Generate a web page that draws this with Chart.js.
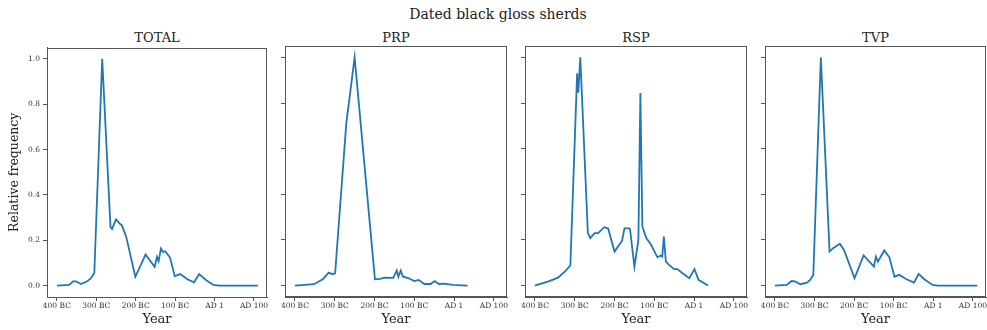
<!DOCTYPE html>
<html>
<head>
<meta charset="utf-8">
<script src="https://cdn.jsdelivr.net/npm/chart.js@4.4.0/dist/chart.umd.min.js"></script>
<style>
  body { margin: 0; background: #fff; }
  #fig { position: relative; width: 987px; height: 330px; overflow: hidden; font-family: 'DejaVu Serif', serif; color: #222; }
  #fig canvas { position: absolute; }
  .ttl { position: absolute; transform: translateX(-50%); white-space: nowrap; line-height: 16px; }
</style>
</head>
<body>
<div id="fig">
  <div class="ttl" style="left:498px; top:6px; font-size:14px;">Dated black gloss sherds</div>
</div>
<script>
// data (year: negative = BC)
const panelNames = ['TOTAL', 'PRP', 'RSP', 'TVP'];

const totalYears  = [-400, -369, -358, -350, -339, -324, -314, -305, -285, -264, -260, -250, -240, -235, -224, -201, -175, -152, -146, -142, -136, -131, -125, -113, -101, -87, -69, -52, -39, -22, -3, 13, 110];
const totalValues = [0, 0.003, 0.02, 0.018, 0.007, 0.018, 0.032, 0.056, 1.0, 0.259, 0.25, 0.292, 0.273, 0.266, 0.215, 0.039, 0.137, 0.083, 0.127, 0.108, 0.164, 0.149, 0.152, 0.124, 0.042, 0.051, 0.028, 0.015, 0.051, 0.025, 0.003, 0, 0];

const prpYears  = [-400, -352, -330, -315, -306, -299, -271, -250, -199, -186, -174, -153, -144, -140, -134, -129, -114, -100, -89, -75, -59, -49, -38, -25, -4, 34];
const prpValues = [0, 0.006, 0.028, 0.057, 0.05, 0.054, 0.71, 1.0, 0.028, 0.029, 0.035, 0.034, 0.066, 0.039, 0.066, 0.04, 0.032, 0.02, 0.025, 0.007, 0.007, 0.02, 0.007, 0.009, 0.003, 0];

const rspYears  = [-400, -364, -342, -325, -311, -294, -291, -286, -267, -261, -250, -241, -226, -216, -200, -181, -175, -164, -161, -150, -140, -135, -130, -120, -109, -92, -84, -80, -76, -71, -63, -50, -42, -29, -12, 1, 11, 35];
const rspValues = [0, 0.02, 0.035, 0.061, 0.088, 0.93, 0.845, 1.0, 0.23, 0.208, 0.23, 0.23, 0.256, 0.25, 0.149, 0.197, 0.251, 0.251, 0.247, 0.083, 0.2, 0.844, 0.259, 0.208, 0.181, 0.124, 0.132, 0.127, 0.215, 0.105, 0.091, 0.072, 0.072, 0.054, 0.032, 0.072, 0.025, 0];

const tvpYears  = [-400, -370, -358, -349, -336, -319, -311, -303, -284, -262, -253, -236, -225, -199, -176, -150, -145, -140, -124, -111, -98, -86, -69, -49, -37, -23, -2, 11, 111];
const tvpValues = [0, 0.003, 0.02, 0.018, 0.006, 0.013, 0.025, 0.047, 1.0, 0.149, 0.164, 0.183, 0.154, 0.032, 0.132, 0.083, 0.127, 0.105, 0.154, 0.124, 0.039, 0.047, 0.029, 0.013, 0.051, 0.028, 0.003, 0, 0];

const xTickValues = [-400, -300, -200, -100, 0, 100];
const xTickLabels = ['400 BC', '300 BC', '200 BC', '100 BC', 'AD 1', 'AD 100'];
const yTickValues = [0, 0.2, 0.4, 0.6, 0.8, 1.0];

// layout of the four axes boxes (px in the 987x330 figure)
const plotLeft = [47, 285, 525, 765];
const plotRight = [267, 507, 747, 986];
const plotTop = 46, plotBottom = 297, figH = 330;

Chart.defaults.font.family = "'DejaVu Serif', serif";
Chart.defaults.color = '#333';

const framePlugin = {
  id: 'frame',
  afterDraw(chart) {
    const a = chart.chartArea, ctx = chart.ctx;
    ctx.save();
    ctx.strokeStyle = '#555';
    ctx.lineWidth = 1;
    ctx.strokeRect(Math.round(a.left) + 0.5, Math.round(a.top) + 0.5, Math.round(a.right - a.left) - 1, Math.round(a.bottom - a.top) - 1);
    ctx.restore();
  }
};

function makePanel(i, years, values) {
  const fig = document.getElementById('fig');
  const first = i === 0;
  const padL = first ? 0 : 20;
  const yW = first ? 47 : 5;
  const padR = 14;
  const canvasTop = 40;
  const left = plotLeft[i] - yW - padL;
  const width = plotRight[i] + padR - left;

  const t = document.createElement('div');
  t.className = 'ttl';
  t.style.left = ((plotLeft[i] + plotRight[i]) / 2) + 'px';
  t.style.top = '30px';
  t.style.fontSize = '13px';
  t.textContent = panelNames[i];
  fig.appendChild(t);

  const c = document.createElement('canvas');
  c.width = width;
  c.height = figH - canvasTop;
  c.style.left = left + 'px';
  c.style.top = canvasTop + 'px';
  fig.appendChild(c);

  new Chart(c, {
    type: 'line',
    data: {
      datasets: [{
        data: years.map((y, k) => ({ x: y, y: values[k] })),
        borderColor: '#1f77b4',
        borderWidth: 1.8,
        pointRadius: 0,
        tension: 0,
        fill: false
      }]
    },
    options: {
      responsive: false,
      animation: false,
      layout: { padding: { left: padL, right: padR, top: plotTop - canvasTop, bottom: 0 } },
      plugins: { legend: { display: false }, tooltip: { enabled: false } },
      scales: {
        x: {
          type: 'linear',
          min: -425,
          max: 133,
          afterBuildTicks: s => { s.ticks = xTickValues.map(v => ({ value: v })); },
          afterFit: s => { s.height = figH - plotBottom; },
          ticks: {
            autoSkip: false, maxRotation: 0, padding: 1,
            font: { size: 7.5 }, color: '#333',
            callback: (v, idx) => xTickLabels[idx]
          },
          grid: { drawOnChartArea: false, drawTicks: true, tickLength: 4, color: '#555' },
          border: { display: true, color: '#555' },
          title: { display: true, text: 'Year', font: { size: 13 }, color: '#222', padding: { top: 0, bottom: 3 } }
        },
        y: {
          min: -0.05,
          max: 1.05,
          afterBuildTicks: s => { s.ticks = yTickValues.map(v => ({ value: v })); },
          afterFit: s => { s.width = yW; },
          ticks: {
            display: first, padding: 3,
            font: { size: 7.5 }, color: '#333',
            callback: v => v.toFixed(1)
          },
          grid: { drawOnChartArea: false, drawTicks: true, tickLength: 4, color: '#555' },
          border: { display: true, color: '#555' },
          title: { display: first, text: 'Relative frequency', font: { size: 12.5 }, color: '#222', padding: { top: 7, bottom: 0 } }
        }
      }
    },
    plugins: [framePlugin]
  });
}

makePanel(0, totalYears, totalValues);
makePanel(1, prpYears, prpValues);
makePanel(2, rspYears, rspValues);
makePanel(3, tvpYears, tvpValues);
</script>
</body>
</html>
